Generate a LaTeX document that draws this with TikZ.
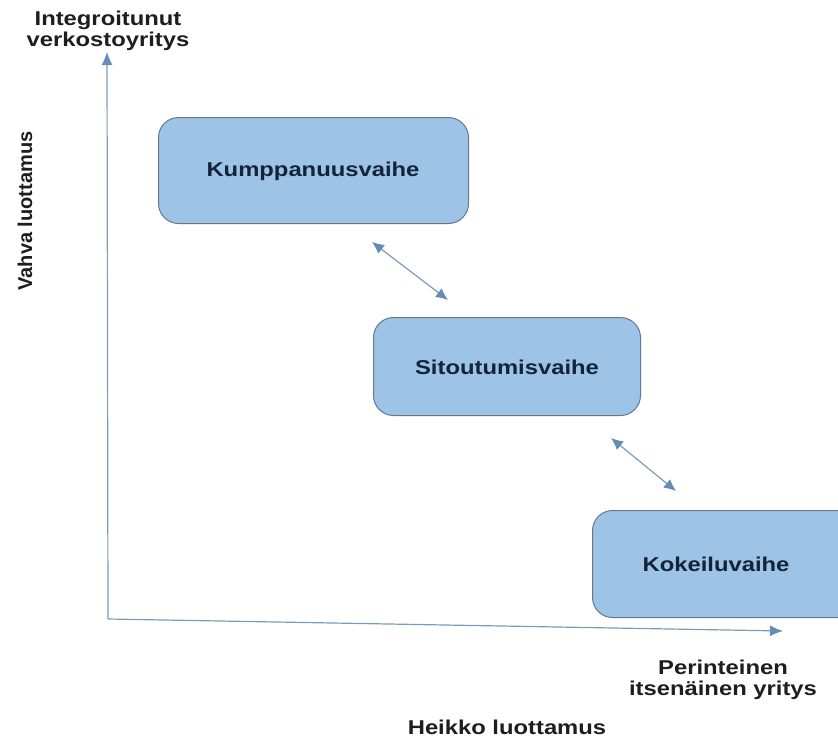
\documentclass[tikz,border=0pt]{standalone}
\usepackage{fontspec}
\setmainfont{Liberation Sans}[FakeStretch=1.19]
\newfontfamily\plainsans{Liberation Sans}
\usetikzlibrary{arrows.meta}
\definecolor{boxfill}{RGB}{157,195,230}
\definecolor{boxline}{RGB}{100,120,145}
\definecolor{axisline}{RGB}{125,155,185}
\definecolor{tipcol}{RGB}{100,140,180}
\definecolor{boxtext}{RGB}{20,35,60}
\definecolor{labtext}{RGB}{30,30,30}
\begin{document}
\begin{tikzpicture}[x=1pt,y=-1pt,
  phasebox/.style={draw=boxline,line width=1pt,fill=boxfill,rounded corners=20pt,anchor=north west},
  boxlabel/.style={font=\fontsize{20}{24}\selectfont\bfseries,text=boxtext},
  axislabel/.style={font=\fontsize{20}{24}\selectfont\bfseries,text=labtext,align=center},
  axisarrow/.style={draw=axisline,line width=1.2pt,-{Latex[length=13pt,width=11pt,fill=tipcol,color=tipcol]}},
  linkarrow/.style={draw=axisline,line width=1.2pt,{Latex[length=12pt,width=11pt,fill=tipcol,color=tipcol]}-{Latex[length=12pt,width=11pt,fill=tipcol,color=tipcol]}}]
\useasboundingbox (0,0) rectangle (838,740);
% axes
\coordinate (origin) at (108,619);
\coordinate (ytip) at (107,52);
\coordinate (xtip) at (783,631);
\draw[axisarrow] (origin) -- (ytip);
\draw[axisarrow] (origin) -- (xtip);
% boxes
\node[phasebox,minimum width=310pt,minimum height=106pt] (kump) at (158,117) {};
\node[boxlabel] (kumpt) at (313,171) {Kumppanuusvaihe};
\node[phasebox,minimum width=267pt,minimum height=98pt] (sito) at (373,317) {};
\node[boxlabel] (sitot) at (507,367) {Sitoutumisvaihe};
\node[phasebox,minimum width=268pt,minimum height=107pt] (koke) at (592,510) {};
\node[boxlabel] (koket) at (716,564) {Kokeiluvaihe};
% link arrows
\coordinate (a1) at (372,242);
\coordinate (a2) at (448,300);
\coordinate (b1) at (611,438);
\coordinate (b2) at (676,491);
\draw[linkarrow] (a1) -- (a2);
\draw[linkarrow] (b1) -- (b2);
% labels
\node[axislabel] (ytop) at (108,31) {Integroitunut\\[-3pt]verkostoyritys};
\node[axislabel,font=\plainsans\fontsize{20}{24}\selectfont\bfseries,rotate=90] (yside) at (25,211) {Vahva luottamus};
\node[axislabel] (xright) at (723,680) {Perinteinen\\[-3pt]itsenäinen yritys};
\node[axislabel] (xbottom) at (507,727) {Heikko luottamus};
\end{tikzpicture}
\end{document}
